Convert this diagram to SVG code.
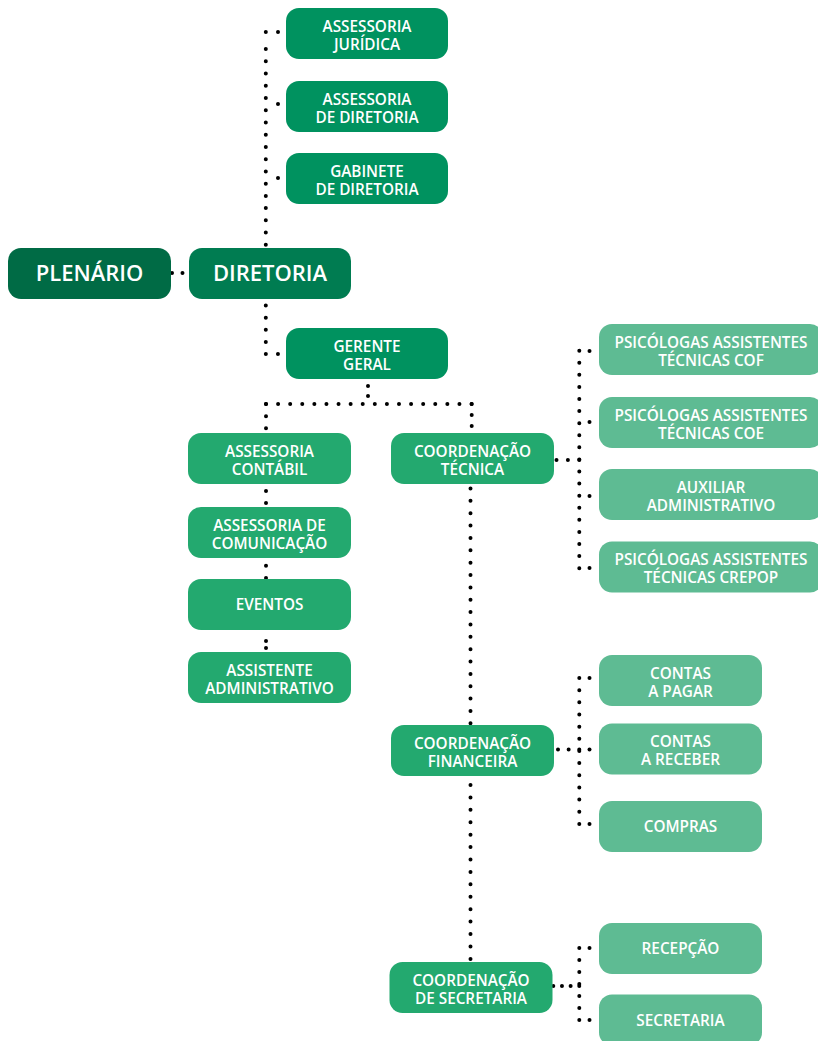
<svg xmlns="http://www.w3.org/2000/svg" width="818" height="1041" viewBox="0 0 818 1041">
<style>
text{font-family:"Open Sans","Noto Sans","Liberation Sans",sans-serif;font-weight:600;fill:#fff;text-anchor:middle;font-size:15.3px}
.big{font-size:22px}
.c0{fill:#006B45}.c1{fill:#007C51}.c2{fill:#00925F}.c3{fill:#23A96F}.c4{fill:#5EBB93}
.dot{fill:none;stroke:#000;stroke-width:4;stroke-linecap:round}
.pt{fill:#000}
</style>
<rect width="818" height="1041" fill="#fff"/>
<g id="connectors">
<path class="dot" d="M172,273H182.5" stroke-dasharray="0 10.49"/>
<path class="dot" d="M278,32H265.8" stroke-dasharray="0 12.19"/>
<path class="dot" d="M265.8,49V245" stroke-dasharray="0 12.24"/>
<circle class="pt" cx="278" cy="104" r="2"/>
<circle class="pt" cx="278" cy="178" r="2"/>
<path class="dot" d="M265.8,305.6V354H278" stroke-dasharray="0 12.11"/>
<path class="dot" d="M368,386V396" stroke-dasharray="0 9.99"/>
<path class="dot" d="M266,428.3V404" stroke-dasharray="0 12.14"/>
<path class="dot" d="M266,404H471.7" stroke-dasharray="0 12.09"/>
<path class="dot" d="M471.7,404V426" stroke-dasharray="0 10.99"/>
<path class="dot" d="M266,491V503" stroke-dasharray="0 11.99"/>
<path class="dot" d="M266,565.7V578" stroke-dasharray="0 12.29"/>
<path class="dot" d="M266,641V648" stroke-dasharray="0 6.99"/>
<path class="dot" d="M470.5,488.5V723.5" stroke-dasharray="0 12.36"/>
<path class="dot" d="M470.5,785V959" stroke-dasharray="0 12.42"/>
<path class="dot" d="M556.5,460H579.3" stroke-dasharray="0 11.39"/>
<path class="dot" d="M579.3,350.7V568.3" stroke-dasharray="0 12.08"/>
<circle class="pt" cx="589.5" cy="351" r="2"/>
<circle class="pt" cx="589.5" cy="422" r="2"/>
<circle class="pt" cx="589.5" cy="496" r="2"/>
<circle class="pt" cx="589.5" cy="568" r="2"/>
<path class="dot" d="M558,749.5H579.3" stroke-dasharray="0 10.64"/>
<path class="dot" d="M579.3,678V824" stroke-dasharray="0 12.16"/>
<circle class="pt" cx="589.5" cy="678" r="2"/>
<circle class="pt" cx="589.5" cy="749.5" r="2"/>
<circle class="pt" cx="589.5" cy="824" r="2"/>
<path class="dot" d="M553.3,986H579.3" stroke-dasharray="0 8.66"/>
<path class="dot" d="M579.3,948V1020" stroke-dasharray="0 11.99"/>
<circle class="pt" cx="589.5" cy="948" r="2"/>
<circle class="pt" cx="589.5" cy="1020" r="2"/>
</g>
<g id="plenario"><rect class="c0" x="8" y="248" width="163" height="51" rx="13"/><text class="big" x="89.5" y="281">PLENÁRIO</text></g>
<g id="diretoria"><rect class="c1" x="189" y="248" width="162" height="51" rx="13"/><text class="big" x="270" y="281">DIRETORIA</text></g>
<g id="assessoria-juridica"><rect class="c2" x="286" y="8" width="162" height="51" rx="13"/><text x="367" y="32">ASSESSORIA</text><text x="367" y="50">JURÍDICA</text></g>
<g id="assessoria-diretoria"><rect class="c2" x="286" y="81" width="162" height="51" rx="13"/><text x="367" y="104.5">ASSESSORIA</text><text x="367" y="122.5">DE DIRETORIA</text></g>
<g id="gabinete-diretoria"><rect class="c2" x="286" y="153" width="162" height="51" rx="13"/><text x="367" y="176.5">GABINETE</text><text x="367" y="194.5">DE DIRETORIA</text></g>
<g id="gerente-geral"><rect class="c2" x="286" y="328" width="162" height="51" rx="13"/><text x="367" y="351.5">GERENTE</text><text x="367" y="369.5">GERAL</text></g>
<g id="assessoria-contabil"><rect class="c3" x="188" y="433" width="163" height="51" rx="13"/><text x="269.5" y="456.5">ASSESSORIA</text><text x="269.5" y="474.5">CONTÁBIL</text></g>
<g id="assessoria-comunicacao"><rect class="c3" x="188" y="507" width="163" height="51" rx="13"/><text x="269.5" y="530.5">ASSESSORIA DE</text><text x="269.5" y="548.5">COMUNICAÇÃO</text></g>
<g id="eventos"><rect class="c3" x="188" y="579" width="163" height="51" rx="13"/><text x="269.5" y="610">EVENTOS</text></g>
<g id="assistente-administrativo"><rect class="c3" x="188" y="652" width="163" height="51" rx="13"/><text x="269.5" y="675.5">ASSISTENTE</text><text x="269.5" y="693.5">ADMINISTRATIVO</text></g>
<g id="coord-tecnica"><rect class="c3" x="391" y="433" width="163" height="51" rx="13"/><text x="472.5" y="456.5">COORDENAÇÃO</text><text x="472.5" y="474.5">TÉCNICA</text></g>
<g id="coord-financeira"><rect class="c3" x="391" y="725" width="163" height="51" rx="13"/><text x="472.5" y="748.5">COORDENAÇÃO</text><text x="472.5" y="766.5">FINANCEIRA</text></g>
<g id="coord-secretaria"><rect class="c3" x="389.5" y="962" width="163" height="51" rx="13"/><text x="471" y="985.5">COORDENAÇÃO</text><text x="471" y="1003.5">DE SECRETARIA</text></g>
<g id="psi-cof"><rect class="c4" x="599" y="324" width="224" height="51" rx="13"/><text x="711" y="347.5">PSICÓLOGAS ASSISTENTES</text><text x="711" y="365.5">TÉCNICAS COF</text></g>
<g id="psi-coe"><rect class="c4" x="599" y="397" width="224" height="51" rx="13"/><text x="711" y="420.5">PSICÓLOGAS ASSISTENTES</text><text x="711" y="438.5">TÉCNICAS COE</text></g>
<g id="auxiliar-administrativo"><rect class="c4" x="599" y="469" width="224" height="51" rx="13"/><text x="711" y="492.5">AUXILIAR</text><text x="711" y="510.5">ADMINISTRATIVO</text></g>
<g id="psi-crepop"><rect class="c4" x="599" y="541.5" width="224" height="51" rx="13"/><text x="711" y="565">PSICÓLOGAS ASSISTENTES</text><text x="711" y="583">TÉCNICAS CREPOP</text></g>
<g id="contas-pagar"><rect class="c4" x="599" y="655" width="163" height="51" rx="13"/><text x="680.5" y="678.5">CONTAS</text><text x="680.5" y="696.5">A PAGAR</text></g>
<g id="contas-receber"><rect class="c4" x="599" y="723.5" width="163" height="51" rx="13"/><text x="680.5" y="747">CONTAS</text><text x="680.5" y="765">A RECEBER</text></g>
<g id="compras"><rect class="c4" x="599" y="801" width="163" height="51" rx="13"/><text x="680.5" y="832">COMPRAS</text></g>
<g id="recepcao"><rect class="c4" x="599" y="923" width="163" height="51" rx="13"/><text x="680.5" y="954">RECEPÇÃO</text></g>
<g id="secretaria"><rect class="c4" x="599" y="994.5" width="163" height="51" rx="13"/><text x="680.5" y="1025.5">SECRETARIA</text></g>
</svg>
